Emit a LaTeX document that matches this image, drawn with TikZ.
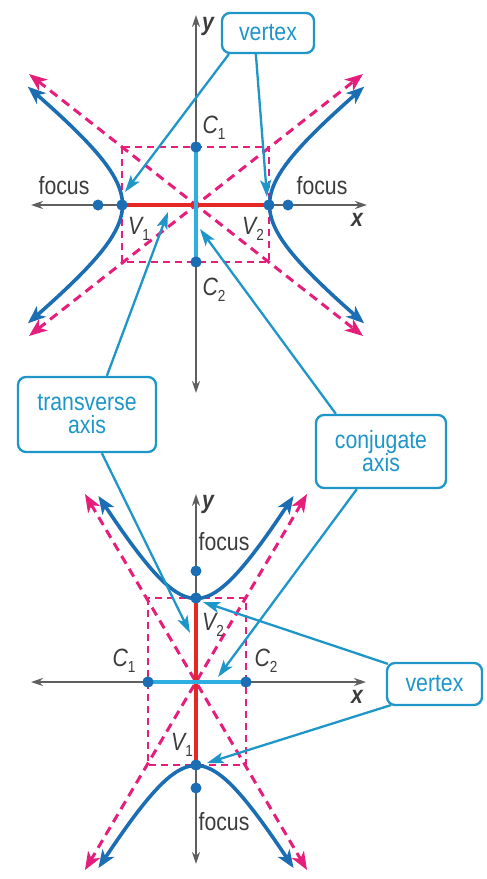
\documentclass[tikz,border=0pt]{standalone}
\usepackage{fontspec}
\setmainfont{Liberation Sans}[FakeStretch=0.85]
\usetikzlibrary{arrows.meta,calc}
\definecolor{axgray}{RGB}{95,95,95}
\definecolor{hypblue}{RGB}{28,110,180}
\definecolor{asypink}{RGB}{228,30,122}
\definecolor{callblue}{RGB}{30,150,200}
\definecolor{conjblue}{RGB}{45,175,225}
\definecolor{axred}{RGB}{228,40,35}
\definecolor{lblgray}{RGB}{60,60,60}
\newcommand{\lblsub}[2]{{\itshape #1}\raisebox{-0.45ex}{\fontsize{16}{16}\selectfont #2}}
\begin{document}
\begin{tikzpicture}[x=1pt,y=-1pt,
  axis/.style={draw=axgray,line width=2pt,{Stealth[length=12pt,width=8pt]}-{Stealth[length=12pt,width=8pt]}},
  hyp/.style={draw=hypblue,line width=3.6pt,{Stealth[length=18pt,width=14pt,inset=5pt]}-{Stealth[length=18pt,width=14pt,inset=5pt]}},
  asy/.style={draw=asypink,line width=3pt,dash pattern=on 9pt off 6pt,{Stealth[length=18pt,width=14pt,inset=5pt]}-{Stealth[length=18pt,width=14pt,inset=5pt]}},
  boxd/.style={draw=asypink,line width=1.8pt,dash pattern=on 7pt off 5pt},
  redax/.style={draw=axred,line width=4.5pt},
  conjax/.style={draw=conjblue,line width=3.4pt},
  dot/.style={circle,fill=hypblue,inner sep=0pt,minimum size=11pt},
  lbl/.style={font=\fontsize{25}{27}\selectfont,text=lblgray,inner sep=0pt},
  axlbl/.style={font=\fontsize{25}{27}\selectfont\bfseries\itshape,text=lblgray,inner sep=0pt},
  callbox/.style={draw=callblue,line width=2.3pt,rounded corners=8pt,fill=white,text=callblue,
     font=\fontsize{25}{26}\selectfont,align=center,inner sep=0pt},
  call/.style={draw=callblue,line width=2.3pt,-{Stealth[length=17pt,width=11pt,inset=4pt]}}
]
\useasboundingbox (0,0) rectangle (487,879);

% ---------- top diagram (horizontal transverse axis) ----------
\coordinate (tO) at (196,205);
\coordinate (txl) at (31,205);
\coordinate (txr) at (367,205);
\coordinate (tyt) at (196,15);
\coordinate (tyb) at (196,393);
\draw[axis] (txl) -- (txr);
\draw[axis] (tyb) -- (tyt);
\draw[boxd] (122,147) rectangle (269,262);
\coordinate (ta1) at (29,74);
\coordinate (ta2) at (363,336);
\coordinate (ta3) at (29,336);
\coordinate (ta4) at (363,74);
\draw[asy] (ta1) -- (ta2);
\draw[asy] (ta3) -- (ta4);
\draw[hyp] plot[domain=-1.47:1.47,samples=60,variable=\t] ({196+73.5*cosh(\t)},{205+57.5*sinh(\t)});
\draw[hyp] plot[domain=-1.47:1.47,samples=60,variable=\t] ({196-73.5*cosh(\t)},{205+57.5*sinh(\t)});
\node[dot] (tV1) at (122,205) {};
\node[dot] (tV2) at (269,205) {};
\node[dot] (tC1) at (196,147) {};
\node[dot] (tC2) at (196,262) {};
\node[dot] (tF1) at (98,205) {};
\node[dot] (tF2) at (288,205) {};
\draw[redax] (tV1.center) -- (tV2.center);
\draw[conjax] (tC1.center) -- (tC2.center);
\node[dot] at (tV1) {};
\node[dot] at (tV2) {};
\node[dot] at (tC1) {};
\node[dot] at (tC2) {};

\node[lbl] (tfocL) at (64,186) {focus};
\node[lbl] (tfocR) at (322,186) {focus};
\node[axlbl] (tylbl) at (208,26) {y};
\node[axlbl] (txlbl) at (357,220) {x};
\node[lbl] (tC1l) at (214,128) {\lblsub{C}{1}};
\node[lbl] (tC2l) at (214,290) {\lblsub{C}{2}};
\node[lbl] (tV1l) at (139,229) {\lblsub{V}{1}};
\node[lbl] (tV2l) at (253,229) {\lblsub{V}{2}};

% ---------- bottom diagram (vertical transverse axis) ----------
\coordinate (bO) at (196,682);
\coordinate (bxl) at (31,682);
\coordinate (bxr) at (366,682);
\coordinate (byt) at (196,494);
\coordinate (byb) at (196,864);
\draw[axis] (bxl) -- (bxr);
\draw[axis] (byb) -- (byt);
\draw[boxd] (148,598) rectangle (246,765);
\coordinate (ba1) at (85,494);
\coordinate (ba2) at (307,870);
\coordinate (ba3) at (307,494);
\coordinate (ba4) at (85,870);
\draw[asy] (ba1) -- (ba2);
\draw[asy] (ba3) -- (ba4);
\draw[hyp] plot[domain=-1.44:1.44,samples=60,variable=\t] ({196+49*sinh(\t)},{682-83.5*cosh(\t)});
\draw[hyp] plot[domain=-1.44:1.44,samples=60,variable=\t] ({196+49*sinh(\t)},{682+83.5*cosh(\t)});
\node[dot] (bV2) at (196,598) {};
\node[dot] (bV1) at (196,765) {};
\node[dot] (bC1) at (148,682) {};
\node[dot] (bC2) at (246,682) {};
\node[dot] (bF1) at (196,571) {};
\node[dot] (bF2) at (196,788) {};
\draw[redax] (bV2.center) -- (bV1.center);
\draw[conjax] (bC1.center) -- (bC2.center);
\node[dot] at (bV1) {};
\node[dot] at (bV2) {};
\node[dot] at (bC1) {};
\node[dot] at (bC2) {};

\node[axlbl] (bylbl) at (208,504) {y};
\node[axlbl] (bxlbl) at (357,697) {x};
\node[lbl] (bfocT) at (224,542) {focus};
\node[lbl] (bfocB) at (224,822) {focus};
\node[lbl] (bC1l) at (124,661) {\lblsub{C}{1}};
\node[lbl] (bC2l) at (266,661) {\lblsub{C}{2}};
\node[lbl] (bV2l) at (213,625) {\lblsub{V}{2}};
\node[lbl] (bV1l) at (182,745) {\lblsub{V}{1}};

% ---------- callouts ----------
\node[callbox,minimum width=92pt,minimum height=40pt] (vtop) at (268,33) {vertex};
\node[callbox,minimum width=138pt,minimum height=75pt] (trans) at (87,414.5) {transverse\\[-3pt]axis};
\node[callbox,minimum width=130pt,minimum height=73pt] (conj) at (381,451.5) {conjugate\\[-3pt]axis};
\node[callbox,minimum width=95pt,minimum height=42pt] (vbot) at (434.5,684) {vertex};

\coordinate (pV1t) at (125,192);
\coordinate (pV2t) at (267,197);
\coordinate (ptrT) at (168,212);
\coordinate (pcoT) at (200,229);
\coordinate (ptrB) at (190,633);
\coordinate (pcoB) at (218,677);
\coordinate (pV2b) at (203,602);
\coordinate (pV1b) at (207,763);

\draw[call] ([xshift=8pt]vtop.south west) -- (pV1t);
\draw[call] ([xshift=35pt]vtop.south west) -- (pV2t);
\draw[call] ([xshift=90pt]trans.north west) -- (ptrT);
\draw[call] ([xshift=85pt]trans.south west) -- (ptrB);
\draw[call] ([xshift=21pt]conj.north west) -- (pcoT);
\draw[call] ([xshift=42pt]conj.south west) -- (pcoB);
\draw[call] ([xshift=2pt,yshift=-2pt]vbot.north west) -- (pV2b);
\draw[call] ([xshift=5pt,yshift=1pt]vbot.south west) -- (pV1b);
\end{tikzpicture}
\end{document}
